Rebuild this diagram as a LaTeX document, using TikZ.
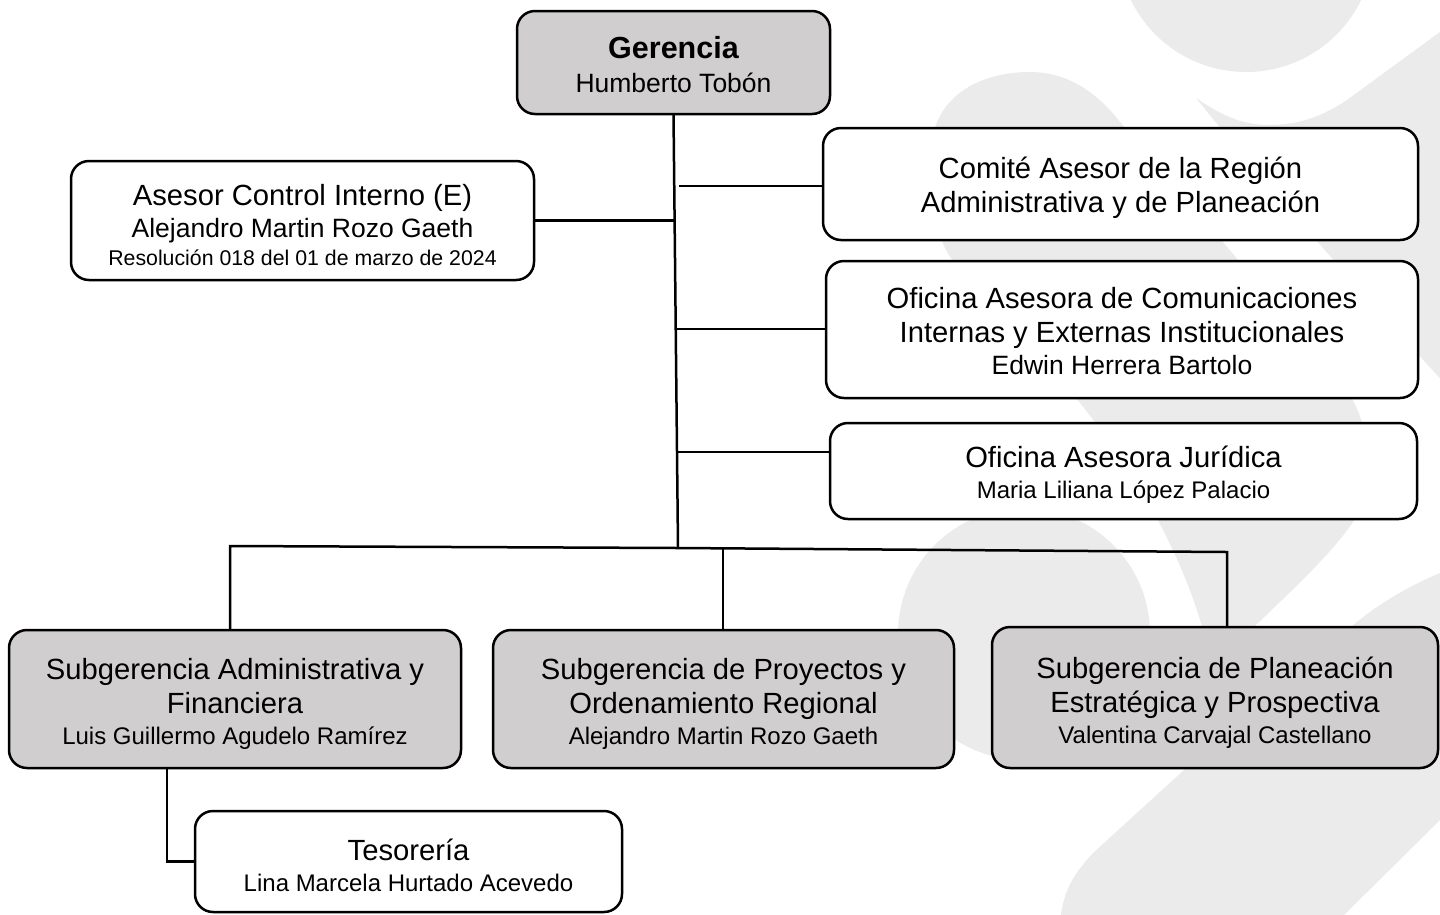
\documentclass[tikz,border=0pt]{standalone}
\usepackage{fontspec}
\setmainfont{Liberation Sans}
\definecolor{boxgray}{HTML}{D0CECE}
\definecolor{wmgray}{HTML}{EBEBEB}
\newcommand\oTitle{\fontsize{29.2pt}{34pt}\selectfont}
\newcommand\oName{\fontsize{26.5pt}{30pt}\selectfont}
\newcommand\oSmall{\fontsize{24pt}{28pt}\selectfont}
\newcommand\oRes{\fontsize{21.3pt}{25pt}\selectfont}
\newcommand\oBold{\fontsize{30.5pt}{34pt}\selectfont\bfseries}
\pgfdeclarelayer{wmlayer}
\pgfdeclarelayer{connlayer}
\pgfsetlayers{wmlayer,connlayer,main}
\tikzset{
  orgbox/.style={draw=black, line width=2.5pt, rounded corners=18pt, inner sep=0pt, outer sep=0pt},
  wbox/.style={orgbox, fill=white},
  gbox/.style={orgbox, fill=boxgray},
  txt/.style={inner sep=0pt, align=center, font=\oTitle},
  conn/.style={draw=black, line width=2.5pt},
  wm/.style={fill=wmgray, draw=none}
}
\begin{document}
\begin{tikzpicture}[x=1pt, y=-1pt]
\useasboundingbox (0,0) rectangle (1440,914);
% boxes
\node[gbox, minimum width=313pt, minimum height=103pt] (ger) at (673.5,62.5) {};
\node[wbox, minimum width=463pt, minimum height=119pt] (ase) at (302.5,220.5) {};
\node[wbox, minimum width=595pt, minimum height=112pt] (com) at (1120.5,184) {};
\node[wbox, minimum width=592pt, minimum height=137pt] (ofi) at (1122,329.5) {};
\node[wbox, minimum width=587pt, minimum height=96pt] (jur) at (1123.5,471) {};
\node[gbox, minimum width=452pt, minimum height=138pt] (sadm) at (235,699) {};
\node[gbox, minimum width=461pt, minimum height=138pt] (spro) at (723.5,699) {};
\node[gbox, minimum width=446pt, minimum height=141pt] (spla) at (1215,697.5) {};
\node[wbox, minimum width=427pt, minimum height=101pt] (tes) at (408.5,861.5) {};
% texts
\node[txt] (gerT) at ([yshift=-2pt]ger.center) {{\oBold Gerencia}\\{\oName Humberto Tobón}};
\node[txt] (aseT) at ([yshift=-5pt]ase.center) {Asesor Control Interno (E)\\[-2pt]{\oName Alejandro Martin Rozo Gaeth}\\[-6pt]{\oRes Resolución 018 del 01 de marzo de 2024}};
\node[txt] (comT) at ([yshift=-4pt]com.center) {Comité Asesor de la Región\\Administrativa y de Planeación};
\node[txt] (ofiT) at ([yshift=-2pt]ofi.center) {Oficina Asesora de Comunicaciones\\Internas y Externas Institucionales\\[-2pt]{\oName Edwin Herrera Bartolo}};
\node[txt] (jurT) at ([yshift=-4pt]jur.center) {Oficina Asesora Jurídica\\[-3pt]{\oSmall Maria Liliana López Palacio}};
\node[txt] (sadmT) at ([yshift=-5pt]sadm.center) {Subgerencia Administrativa y\\Financiera\\[-3pt]{\oSmall Luis Guillermo Agudelo Ramírez}};
\node[txt] (sproT) at ([yshift=-5pt]spro.center) {Subgerencia de Proyectos y\\Ordenamiento Regional\\[-3pt]{\oSmall Alejandro Martin Rozo Gaeth}};
\node[txt] (splaT) at ([yshift=-5pt]spla.center) {Subgerencia de Planeación\\Estratégica y Prospectiva\\[-3pt]{\oSmall Valentina Carvajal Castellano}};
\node[txt] (tesT) at ([yshift=-4pt]tes.center) {Tesorería\\[-3pt]{\oSmall Lina Marcela Hurtado Acevedo}};
% connectors
\coordinate (tb) at (678,548);
\coordinate (bA) at (674.6,220.5);
\coordinate (bC) at (679,186);
\coordinate (bO) at (675.7,329);
\coordinate (bJ) at (677,452);
\coordinate (busL) at (230,546);
\coordinate (busM) at (723,548.3);
\coordinate (busR) at (1227,552);
\coordinate (tk) at (167,861.5);
\begin{pgfonlayer}{connlayer}
\draw[conn] (ger.south) -- (tb);
\draw[conn] (bA) -- (ase.east);
\draw[conn] (bC) -- (bC -| com.west);
\draw[conn] (bO) -- (bO -| ofi.west);
\draw[conn] (bJ) -- (bJ -| jur.west);
\draw[conn] (busL |- sadm.north) -- (busL) -- (tb) -- (busR) -- (busR |- spla.north);
\draw[conn] (busM) -- (busM |- spro.north);
\draw[conn] (sadm.south -| tk) -- (tk) -- (tes.west);
\end{pgfonlayer}
% watermark
\begin{pgfonlayer}{wmlayer}
\fill[white] (0,0) rectangle (1440,914);
\begin{scope}
\clip (0,0) rectangle (1440,914);
\fill[wm] (1246,-56) circle[radius=128];
\fill[wm] (1196,98) .. controls (1225,118) and (1245,125) .. (1270,125) .. controls (1300,125) and (1325,115) .. (1347,100) -- (1440,32) -- (1500,-12) -- (1500,445) -- (1460,400) .. controls (1340,270) and (1250,165) .. (1196,98) -- cycle;
\fill[wm] (1030,72) .. controls (975,72) and (933,100) .. (931,150) .. controls (929,200) and (935,235) .. (951,258) .. controls (1000,315) and (1060,375) .. (1094,421) .. controls (1150,495) and (1195,580) .. (1212,667) .. controls (1270,610) and (1340,550) .. (1360,510) .. controls (1375,470) and (1368,425) .. (1350,395) -- (1223,242) -- (1124,127) .. controls (1100,95) and (1070,72) .. (1030,72) -- cycle;
\fill[wm] (1024,634) circle[radius=126];
\fill[wm] (1500,545) -- (1440,573) .. controls (1400,590) and (1365,612) .. (1337,640) -- (1184,770) -- (1093,853) .. controls (1070,878) and (1062,895) .. (1060,925) -- (1334,925) -- (1345,914) -- (1440,820) -- (1500,760) -- cycle;
\end{scope}
\end{pgfonlayer}
\end{tikzpicture}
\end{document}
